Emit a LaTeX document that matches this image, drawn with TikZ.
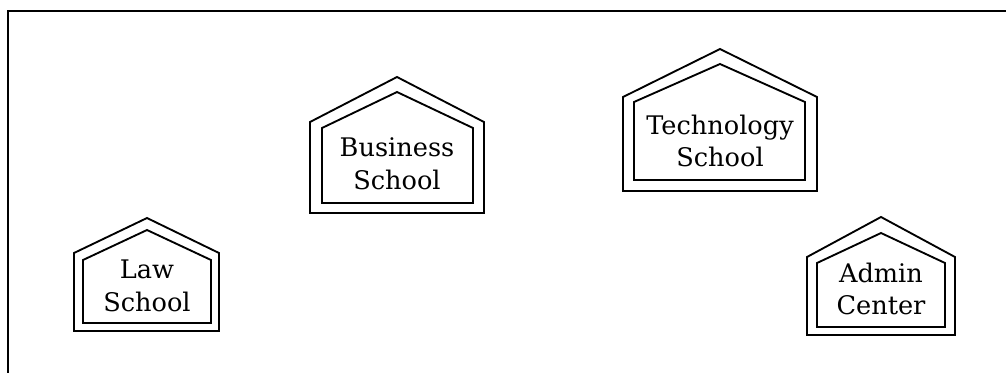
\documentclass[tikz,border=0pt]{standalone}
\usepackage{fontspec}
\setmainfont{DejaVu Serif}
\tikzset{
  wall/.style={draw=black, line width=1.4pt, line join=miter},
  label/.style={align=center, inner sep=0pt, font=\fontsize{19.2}{24.5}\selectfont},
  frame/.style={draw=black, line width=1.5pt}
}
\newcommand\bldg[9]{%
  % #1 apex x, #2 outer L, #3 outer R, #4 outer apex y, #5 outer shoulder y, #6 outer bottom,
  % #7 inner L, #8 inner R, #9 inner apex y ; inner shoulder/bottom via \innsh, \innbt
  \draw[wall] (#2,#6) -- (#2,#5) -- (#1,#4) -- (#3,#5) -- (#3,#6) -- cycle;
  \draw[wall] (#7,\innbt) -- (#7,\innsh) -- (#1,#9) -- (#8,\innsh) -- (#8,\innbt) -- cycle;
}
\begin{document}
\begin{tikzpicture}[x=0.75pt, y=-0.75pt]
\useasboundingbox (0,0) rectangle (1006,372);
\begin{scope}
\clip (0,0) rectangle (1006,372);
\draw[frame] (8,11) rectangle (1012,380);
\end{scope}
% Law School
\def\innsh{260}\def\innbt{323}
\bldg{147}{74}{219}{218}{253}{331}{83}{211}{230}
\node[label] (law) at (147,286) {Law\\School};
% Business School
\def\innsh{128}\def\innbt{203}
\bldg{397}{310}{484}{77}{122}{213}{322}{473}{92}
\node[label] (business) at (397,164) {Business\\School};
% Technology School
\def\innsh{102}\def\innbt{180}
\bldg{720}{623}{817}{49}{97}{191}{634}{805}{64}
\node[label] (tech) at (720,141) {Technology\\School};
% Admin Center
\def\innsh{263}\def\innbt{327}
\bldg{881}{807}{955}{217}{257}{335}{817}{945}{233}
\node[label] (admin) at (881,289) {Admin\\Center};
\end{tikzpicture}
\end{document}
